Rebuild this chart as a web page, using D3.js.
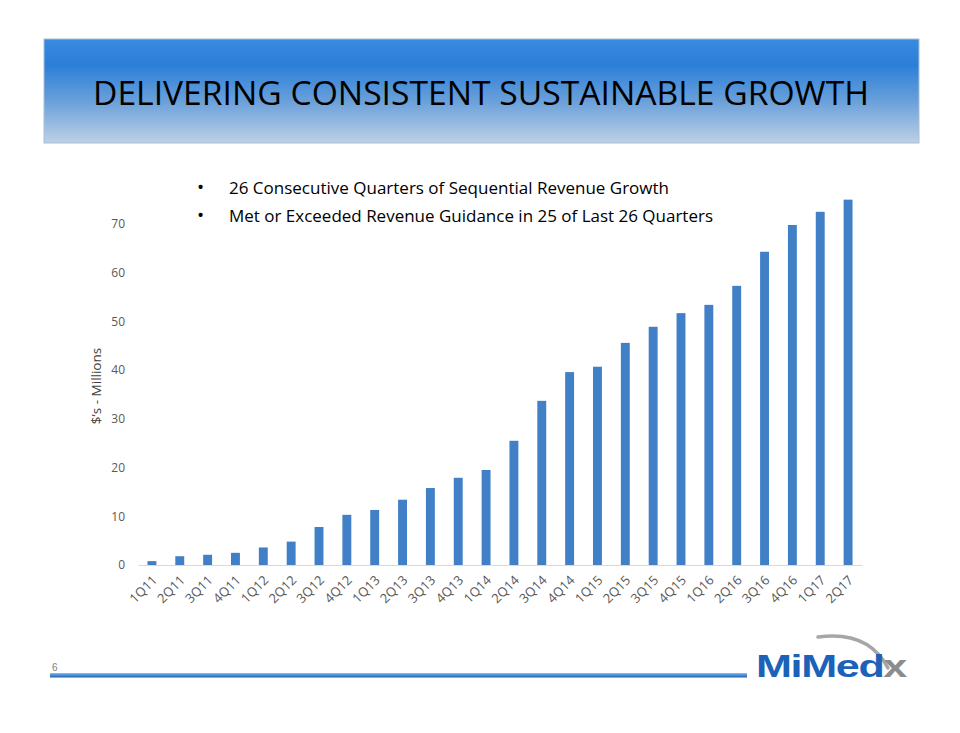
<!DOCTYPE html>
<html>
<head>
<meta charset="utf-8">
<script src="https://cdn.jsdelivr.net/npm/d3@7/dist/d3.min.js"></script>
<style>
  html, body { margin: 0; padding: 0; background: #fff; }
  svg { display: block; }
</style>
</head>
<body>
<svg id="chart" width="960" height="733"></svg>
<script>
const categories = ["1Q11","2Q11","3Q11","4Q11","1Q12","2Q12","3Q12","4Q12","1Q13","2Q13","3Q13","4Q13","1Q14","2Q14","3Q14","4Q14","1Q15","2Q15","3Q15","4Q15","1Q16","2Q16","3Q16","4Q16","1Q17","2Q17"];
const revenue = [0.8,1.8,2.1,2.5,3.6,4.8,7.8,10.3,11.3,13.4,15.8,17.9,19.5,25.5,33.7,39.6,40.7,45.6,48.9,51.7,53.4,57.3,64.3,69.8,72.5,75.0];
const yTicks = [0,10,20,30,40,50,60,70];
const titleText = "DELIVERING CONSISTENT SUSTAINABLE GROWTH";
const bullets = ["26 Consecutive Quarters of Sequential Revenue Growth","Met or Exceeded Revenue Guidance in 25 of Last 26 Quarters"];
const yAxisTitle = "$\u2019s - Millions";
const pageNumber = "6";

const svg = d3.select("#chart");
const defs = svg.append("defs");

// Banner gradient
const g1 = defs.append("linearGradient").attr("id","banner").attr("x1",0).attr("y1",0).attr("x2",0).attr("y2",1);
g1.append("stop").attr("offset","0%").attr("stop-color","#3a8ae0");
g1.append("stop").attr("offset","25%").attr("stop-color","#2b7fd8");
g1.append("stop").attr("offset","60%").attr("stop-color","#6aa0da");
g1.append("stop").attr("offset","100%").attr("stop-color","#bfd0e6");

svg.append("rect").attr("x",44).attr("y",39).attr("width",875).attr("height",104)
  .attr("fill","url(#banner)").attr("stroke","#a9bfd9").attr("stroke-width",1);

svg.append("text").attr("x",481).attr("y",105).attr("text-anchor","middle")
  .attr("font-family","'Open Sans', 'Noto Sans', sans-serif").attr("font-size",32).attr("font-weight",500)
  .attr("textLength",776).attr("lengthAdjust","spacingAndGlyphs")
  .attr("fill","#000").text(titleText);

// Bullets
const bg = svg.append("g").attr("font-family","'Open Sans', 'Noto Sans', sans-serif").attr("font-size",16.5).attr("font-weight",500).attr("fill","#000");
const bulletWidths = [440, 484];
bullets.forEach((t,i)=>{
  const y = 194 + i*28;
  bg.append("text").attr("x",197).attr("y",y).attr("font-size",19).text("\u2022");
  bg.append("text").attr("x",229).attr("y",y).attr("textLength",bulletWidths[i]).attr("lengthAdjust","spacingAndGlyphs").text(t);
});

// Chart
const margin = {left:138, right:862, top:224, bottom:565};
const x = d3.scaleBand().domain(categories).range([margin.left, margin.right]).paddingInner(0.68).paddingOuter(0.34);
const y = d3.scaleLinear().domain([0,70]).range([margin.bottom, margin.top]);

svg.append("g").selectAll("rect").data(revenue).join("rect")
  .attr("x",(d,i)=>x(categories[i]))
  .attr("width",x.bandwidth())
  .attr("y",d=>y(d))
  .attr("height",d=>y(0)-y(d))
  .attr("fill","#4180c6");

// baseline
const xAxis = d3.axisBottom(x).tickSize(0).tickPadding(0);
const xg = svg.append("g").attr("transform",`translate(0,${y(0)})`).call(xAxis);
xg.select(".domain").attr("stroke","#d9d9d9").attr("stroke-width",1.2);
xg.selectAll("text")
  .attr("font-family","'Open Sans', 'Noto Sans', sans-serif").attr("font-size",13).attr("fill","#595959")
  .attr("text-anchor","end").attr("dy",0)
  .attr("transform",function(){ return "translate(6,16) rotate(-45)"; });

const yAxis = d3.axisLeft(y).tickValues(yTicks).tickSize(0).tickPadding(13);
const yg = svg.append("g").attr("transform",`translate(${margin.left},0)`).call(yAxis);
yg.select(".domain").remove();
yg.selectAll("text").attr("font-family","'Open Sans', 'Noto Sans', sans-serif").attr("font-size",12).attr("fill","#595959");

svg.append("text").attr("transform","translate(101,386) rotate(-90)").attr("text-anchor","middle")
  .attr("font-family","'Open Sans', 'Noto Sans', sans-serif").attr("font-size",13.5).attr("fill","#404040")
  .text(yAxisTitle);

// Footer
const g2 = defs.append("linearGradient").attr("id","foot").attr("x1",0).attr("y1",0).attr("x2",0).attr("y2",1);
g2.append("stop").attr("offset","0%").attr("stop-color","#8fc0ee");
g2.append("stop").attr("offset","50%").attr("stop-color","#3f8ee0");
g2.append("stop").attr("offset","100%").attr("stop-color","#2a5f9e");
svg.append("rect").attr("x",50).attr("y",673).attr("width",697).attr("height",4.5).attr("fill","url(#foot)");
svg.append("text").attr("x",52).attr("y",671).attr("font-family","'Liberation Sans Narrow','Liberation Sans',sans-serif").attr("font-size",10).attr("fill","#7f7f7f").text(pageNumber);

// Logo
svg.append("path").attr("d","M818,637 Q868,630 888,668")
  .attr("fill","none").attr("stroke","#a6a6a6").attr("stroke-width",3.5).attr("stroke-linecap","round");
const logo = svg.append("text").attr("x",756).attr("y",677)
  .attr("font-family","'Liberation Sans', Arial, sans-serif").attr("font-weight","bold").attr("font-size",31)
  .attr("textLength",150).attr("lengthAdjust","spacingAndGlyphs").attr("letter-spacing",-1);
logo.append("tspan").attr("fill","#1c62b9").text("MiMed");
logo.append("tspan").attr("fill","#8c8c8c").text("x");
</script>
</body>
</html>
